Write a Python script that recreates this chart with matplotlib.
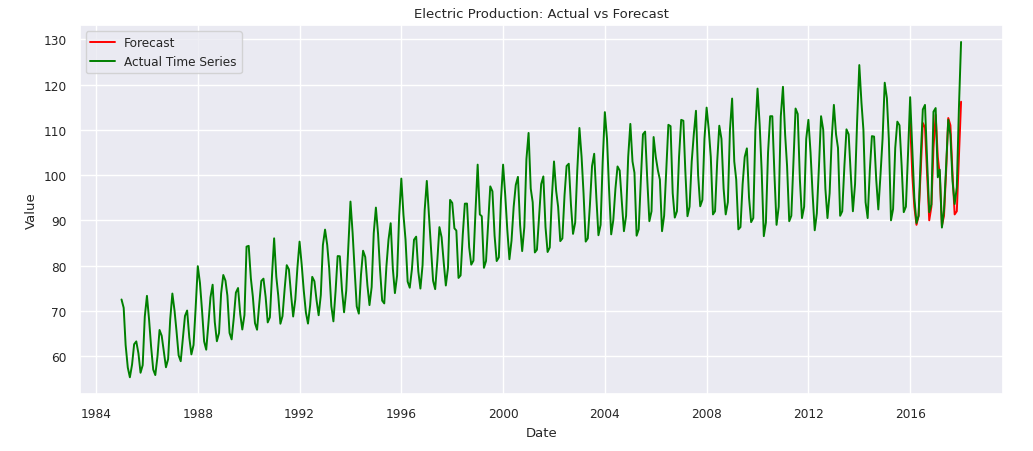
import matplotlib
matplotlib.use("Agg")
import matplotlib.pyplot as plt
import pandas as pd
import seaborn as sns

# monthly values, Jan 1985 .. Jan 2018
y1985 = [72.51, 70.67, 62.45, 57.47, 55.32, 58.09, 62.62, 63.25, 60.58, 56.32, 58.00, 68.71]
y1986 = [73.31, 67.99, 62.22, 57.03, 55.81, 59.90, 65.77, 64.48, 61.00, 57.53, 59.34, 68.14]
y1987 = [73.82, 70.06, 65.61, 60.16, 58.87, 63.89, 68.87, 70.07, 64.12, 60.38, 62.46, 70.58]
y1988 = [79.87, 76.16, 70.29, 63.24, 61.41, 67.11, 72.98, 75.77, 67.52, 63.28, 65.11, 73.86]
y1989 = [77.92, 76.68, 73.35, 65.11, 63.69, 68.47, 74.03, 75.04, 69.31, 65.87, 69.07, 84.19]
y1990 = [84.36, 77.17, 73.20, 67.28, 65.82, 71.47, 76.61, 77.11, 73.06, 67.44, 68.57, 77.68]
y1991 = [86.02, 77.56, 73.37, 67.15, 68.82, 74.84, 80.09, 79.16, 73.57, 68.75, 72.52, 79.49]
y1992 = [85.29, 80.16, 74.53, 69.64, 67.18, 71.21, 77.51, 76.54, 72.35, 69.03, 73.50, 84.52]
y1993 = [87.95, 84.56, 79.47, 71.06, 67.68, 74.33, 82.10, 82.06, 74.60, 69.68, 74.43, 84.23]
y1994 = [94.14, 87.16, 79.25, 70.97, 69.38, 77.98, 83.28, 81.89, 75.68, 71.27, 75.25, 87.16]
y1995 = [92.81, 87.00, 79.20, 72.26, 71.64, 79.85, 85.72, 89.35, 79.38, 73.92, 77.79, 91.05]
y1996 = [99.22, 91.14, 85.81, 76.45, 75.11, 79.18, 85.70, 86.39, 78.68, 74.92, 80.09, 92.22]
y1997 = [98.70, 90.91, 84.13, 76.64, 74.79, 81.10, 88.50, 86.27, 80.67, 75.60, 79.48, 94.51]
y1998 = [93.84, 88.24, 87.73, 77.27, 77.82, 86.76, 93.68, 93.70, 84.04, 80.21, 81.08, 92.00]
y1999 = [102.3, 91.3, 90.9, 79.5, 81.0, 89.5, 97.5, 96.4, 86.6, 81.0, 81.8, 94.5]
y2000 = [102.3, 95.5, 88.0, 81.4, 85.5, 93.0, 97.8, 99.6, 89.0, 83.2, 88.5, 103.5]
y2001 = [109.3, 97.0, 94.0, 82.9, 83.5, 91.0, 98.0, 99.7, 88.5, 83.0, 84.0, 95.0]
y2002 = [103.0, 96.5, 93.0, 85.4, 86.0, 95.5, 102.0, 102.5, 93.5, 87.0, 89.5, 101.0]
y2003 = [110.4, 104.0, 96.0, 85.3, 86.0, 93.5, 102.0, 104.7, 95.0, 86.7, 89.0, 103.0]
y2004 = [113.9, 108.0, 97.0, 86.9, 90.0, 97.0, 101.9, 101.0, 94.0, 87.6, 91.0, 104.0]
y2005 = [111.3, 103.0, 100.5, 86.6, 88.0, 99.0, 109.0, 109.6, 99.0, 89.8, 92.0, 108.4]
y2006 = [104.0, 101.0, 99.0, 87.6, 91.0, 101.0, 111.1, 110.8, 96.0, 90.6, 92.0, 104.0]
y2007 = [112.2, 112.0, 101.0, 90.9, 93.0, 103.0, 109.0, 114.2, 100.0, 93.1, 94.5, 108.0]
y2008 = [114.9, 110.0, 104.0, 91.3, 92.0, 103.0, 110.9, 108.0, 97.0, 91.3, 94.0, 110.0]
y2009 = [116.9, 103.0, 99.0, 88.0, 88.5, 98.0, 104.0, 105.9, 95.0, 89.6, 90.5, 110.0]
y2010 = [119.1, 111.0, 101.0, 86.5, 89.5, 105.0, 113.0, 113.0, 100.0, 89.0, 93.0, 113.0]
y2011 = [119.5, 109.0, 102.0, 89.8, 91.0, 103.0, 114.7, 113.5, 99.0, 90.5, 93.0, 108.0]
y2012 = [112.2, 105.0, 96.0, 87.8, 91.5, 102.0, 113.0, 110.0, 97.0, 90.5, 96.0, 108.0]
y2013 = [115.5, 109.0, 106.0, 91.0, 92.0, 102.0, 110.1, 109.0, 100.0, 92.0, 98.0, 112.0]
y2014 = [124.3, 116.0, 110.0, 94.0, 90.5, 101.0, 108.6, 108.5, 99.0, 92.4, 100.0, 108.0]
y2015 = [120.4, 117.0, 108.0, 90.0, 92.5, 106.0, 111.8, 111.0, 102.0, 91.8, 93.0, 104.5]
y2016 = [117.2, 106.0, 95.0, 89.4, 91.0, 104.0, 114.5, 115.5, 103.0, 91.8, 93.5, 114.0]
y2017 = [114.8, 99.5, 101.2, 88.4, 92.2, 102.1, 112.2, 108.9, 98.6, 93.6, 97.3, 114.7]
y2018 = [129.4]

actual_values = (y1985 + y1986 + y1987 + y1988 + y1989 + y1990 + y1991 + y1992
                 + y1993 + y1994 + y1995 + y1996 + y1997 + y1998 + y1999 + y2000
                 + y2001 + y2002 + y2003 + y2004 + y2005 + y2006 + y2007 + y2008
                 + y2009 + y2010 + y2011 + y2012 + y2013 + y2014 + y2015 + y2016
                 + y2017 + y2018)

# forecast, Jan 2016 .. Jan 2018
forecast_values = [111.8, 100.0, 93.0, 89.0, 91.0, 101.0, 111.5, 110.5, 100.0, 90.0, 93.0, 106.0,
                   113.3, 104.0, 100.0, 88.8, 91.0, 101.0, 112.6, 111.0, 100.0, 91.3, 92.0, 104.0,
                   116.2]

actual_dates = pd.date_range("1985-01-01", periods=len(actual_values), freq="MS")
forecast_dates = pd.date_range("2016-01-01", periods=len(forecast_values), freq="MS")

sns.set_theme(style="darkgrid")
plt.rcParams["font.family"] = ["DejaVu Sans"]

fig, ax = plt.subplots(figsize=(10.33, 4.52), dpi=100)
ax.plot(forecast_dates, forecast_values, color="red", linewidth=1.4, label="Forecast")
ax.plot(actual_dates, actual_values, color="green", linewidth=1.4, label="Actual Time Series")
ax.set_title("Electric Production: Actual vs Forecast", fontsize=9.5)
ax.set_xlabel("Date", fontsize=9.5)
ax.set_ylabel("Value", fontsize=9.5)
ax.tick_params(labelsize=8.7)
ax.legend(loc="upper left", fontsize=8.7)
fig.subplots_adjust(left=0.077, right=0.971, top=0.942, bottom=0.126)
fig.savefig("out.png", dpi=100)
plt.close(fig)
